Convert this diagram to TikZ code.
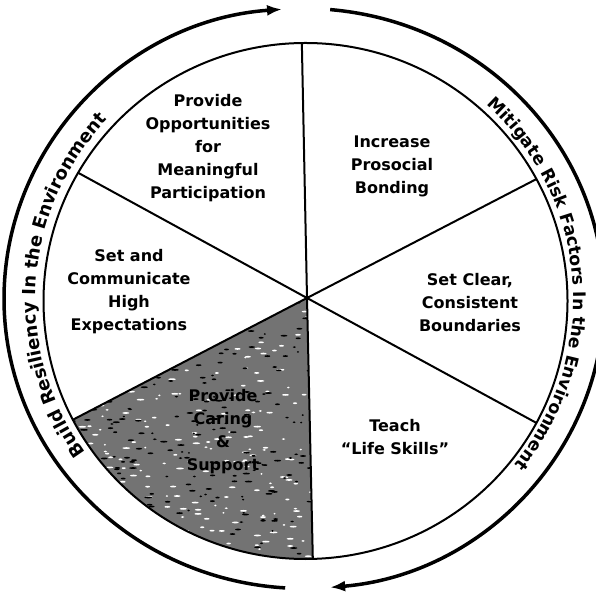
\documentclass[tikz,border=0pt]{standalone}
\usepackage{fontspec}
\setmainfont{DejaVu Sans}
\usetikzlibrary{arrows.meta,decorations.text,calc}
\begin{document}
\begin{tikzpicture}[x=1pt,y=1pt,
  lbl/.style={font=\fontsize{16}{23}\selectfont\bfseries, align=center, inner sep=0pt, text=black},
  rim/.style={line width=3.5pt, -{Latex[length=15pt,width=11pt]}},
  spoke/.style={line width=2pt},
  wheel/.style={line width=2pt},
  shade/.style={fill=black!55},
  speckw/.style={fill=white},
  speckb/.style={fill=black}]
\useasboundingbox (0,0) rectangle (596,591);
\fill[white] (0,0) rectangle (596,591);
% centres
\coordinate (C) at (305.5,290);   % inner wheel
\coordinate (H) at (307,293);     % hub
\coordinate (O) at (304,292.5);   % outer rim
\coordinate (T) at (304.5,291.5); % rim text baseline
% spoke ends on the wheel
\coordinate (pT)  at ([shift={(90.8:262pt and 258pt)}]C);
\coordinate (pUL) at ([shift={(150.2:262pt and 258pt)}]C);
\coordinate (pLL) at ([shift={(207.4:262pt and 258pt)}]C);
\coordinate (pB)  at ([shift={(271.6:262pt and 258pt)}]C);
\coordinate (pLR) at ([shift={(331.8:262pt and 258pt)}]C);
\coordinate (pUR) at ([shift={(28.2:262pt and 258pt)}]C);
% shaded sector with a speckled texture
\fill[shade] (H) -- (pLL) arc[start angle=207.4, end angle=271.6, x radius=262pt, y radius=258pt] -- cycle;
\begin{scope}
  \clip (H) -- (pLL) arc[start angle=207.4, end angle=271.6, x radius=262pt, y radius=258pt] -- cycle;
  \pgfmathsetseed{7}
  \foreach \i in {1,...,260}{
    \pgfmathsetmacro{\xx}{70+245*rnd}
    \pgfmathsetmacro{\yy}{30+265*rnd}
    \pgfmathsetmacro{\ww}{1+3*rnd}
    \fill[speckw] (\xx,\yy) ellipse[x radius=\ww, y radius=0.9];
  }
  \foreach \i in {1,...,260}{
    \pgfmathsetmacro{\xx}{70+245*rnd}
    \pgfmathsetmacro{\yy}{30+265*rnd}
    \pgfmathsetmacro{\ww}{1+3*rnd}
    \fill[speckb] (\xx,\yy) ellipse[x radius=\ww, y radius=0.9];
  }
\end{scope}
% wheel and spokes
\draw[wheel] (C) ellipse[x radius=262pt, y radius=258pt];
\draw[spoke] (H) -- (pT);
\draw[spoke] (H) -- (pUL);
\draw[spoke] (H) -- (pLL);
\draw[spoke] (H) -- (pB);
\draw[spoke] (H) -- (pLR);
\draw[spoke] (H) -- (pUR);
% outer rim arrows
\coordinate (rL) at ([shift={(266.4:300pt and 290pt)}]O);
\coordinate (rR) at ([shift={(85:300pt and 290pt)}]O);
\draw[rim] (rL) arc[start angle=266.4, end angle=94.2, x radius=300pt, y radius=290pt];
\draw[rim] (rR) arc[start angle=85, end angle=-85, x radius=300pt, y radius=290pt];
% rim texts
\coordinate (tL) at ([shift={(236.2:269pt and 264pt)}]T);
\coordinate (tR) at ([shift={(64.4:269pt and 264pt)}]T);
\path[decorate, decoration={text along path, text align=center,
  text={|\fontsize{18}{18}\selectfont\bfseries|Build Resiliency In the Environment}}]
  (tL) arc[start angle=236.2, end angle=116.2, x radius=269pt, y radius=264pt];
\path[decorate, decoration={text along path, text align=center,
  text={|\fontsize{17.2}{17.2}\selectfont\bfseries|Mitigate Risk Factors In the Environment}}]
  (tR) arc[start angle=64.4, end angle=-55.6, x radius=269pt, y radius=264pt];
% sector labels
\node[lbl] (opp) at (208,443) {Provide\\Opportunities\\for\\Meaningful\\Participation};
\node[lbl] (bond) at (392,425) {Increase\\Prosocial\\Bonding};
\node[lbl] (expect) at (129,299) {Set and\\Communicate\\High\\Expectations};
\node[lbl] (bound) at (470,288) {Set Clear,\\Consistent\\Boundaries};
\node[lbl] (teach) at (395,153.5) {Teach\\``Life Skills''};
\node[lbl] (care) at (223,159) {Provide\\Caring\\\&\\Support};
\end{tikzpicture}
\end{document}
